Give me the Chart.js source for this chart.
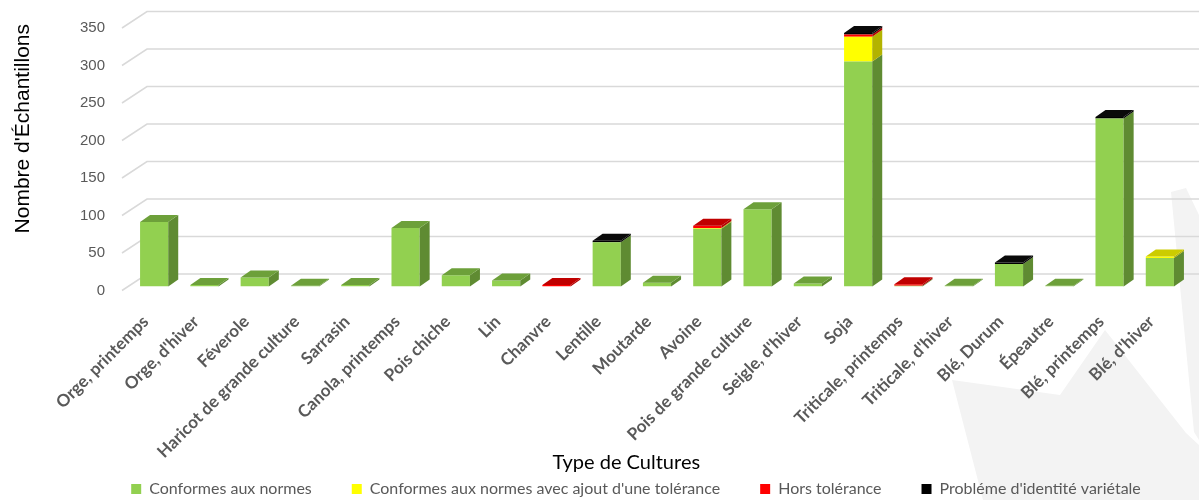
<!DOCTYPE html>
<html>
<head>
<meta charset="utf-8">
<script src="https://cdn.jsdelivr.net/npm/chart.js@4/dist/chart.umd.min.js"></script>
<style>
  html, body { margin: 0; padding: 0; background: #fff; }
</style>
</head>
<body>
<canvas id="myChart" width="1199" height="500"></canvas>
<script>
/* Données */
const cultures = ['Orge, printemps', "Orge, d'hiver", 'Féverole', 'Haricot de grande culture', 'Sarrasin',
  'Canola, printemps', 'Pois chiche', 'Lin', 'Chanvre', 'Lentille', 'Moutarde', 'Avoine',
  'Pois de grande culture', "Seigle, d'hiver", 'Soja', 'Triticale, printemps', "Triticale, d'hiver",
  'Blé, Durum', 'Épeautre', 'Blé, printemps', "Blé, d'hiver"];
const conformes   = [86, 2, 12, 1, 2, 78, 15, 8, 0, 59, 5, 77, 103, 4, 300, 1, 1, 30, 1, 224, 38];
const tolerance   = [0, 0, 0, 0, 0, 0, 0, 0, 0, 0, 0, 1, 0, 0, 33, 0, 0, 0, 0, 0, 2];
const horsTol     = [0, 0, 0, 0, 0, 0, 0, 0, 2, 0, 0, 3, 0, 0, 3, 2, 0, 0, 0, 0, 0];
const identite    = [0, 0, 0, 0, 0, 0, 0, 0, 0, 2, 0, 0, 0, 0, 2, 0, 0, 2, 0, 2, 0];
const yTicks = [0, 50, 100, 150, 200, 250, 300, 350];

/* couleurs : face avant, côté, dessus */
const faces = [
  { front: '#92d050', side: '#5f8b32', top: '#6da03a' },
  { front: '#ffff00', side: '#b3b300', top: '#cccc00' },
  { front: '#ff0000', side: '#b30000', top: '#c00000' },
  { front: '#000000', side: '#000000', top: '#0a0a0a' }
];
const DX = 10, DY = 7; // profondeur des barres

/* Effet 3D façon Excel */
const bar3d = {
  id: 'bar3d',
  beforeDraw(chart) {
    // forme grise en filigrane (bas à droite)
    const ctx = chart.ctx;
    ctx.save();
    ctx.fillStyle = '#f3f3f3';
    ctx.beginPath();
    [[952, 380], [1060, 395], [1105, 330], [1186, 433], [1199, 445], [1199, 500], [983, 500]]
      .forEach(([x, y], i) => i ? ctx.lineTo(x, y) : ctx.moveTo(x, y));
    ctx.closePath();
    ctx.fill();
    ctx.beginPath();
    [[1171, 192], [1186, 188], [1199, 215], [1199, 440], [1194, 432]]
      .forEach(([x, y], i) => i ? ctx.lineTo(x, y) : ctx.moveTo(x, y));
    ctx.closePath();
    ctx.fill();
    ctx.restore();
  },
  beforeDatasetsDraw(chart) {
    // quadrillage sur le mur du fond + lignes de côté
    const { ctx, chartArea, scales: { y } } = chart;
    ctx.save();
    ctx.strokeStyle = '#d9d9d9';
    ctx.lineWidth = 1.5;
    y.ticks.forEach(t => {
      const py = y.getPixelForValue(t.value);
      ctx.beginPath();
      ctx.moveTo(chartArea.left - 7, py + 4);
      ctx.lineTo(chartArea.left + 18, py - 12.5);
      ctx.lineTo(chart.width, py - 12.5);
      ctx.stroke();
    });
    ctx.restore();
  },
  afterDatasetsDraw(chart) {
    const ctx = chart.ctx;
    const n = chart.data.labels.length;
    ctx.save();
    for (let i = 0; i < n; i++) {
      let topDs = -1;
      chart.data.datasets.forEach((ds, d) => { if (ds.data[i] > 0) topDs = d; });
      chart.data.datasets.forEach((ds, d) => {
        if (!(ds.data[i] > 0)) return;
        const el = chart.getDatasetMeta(d).data[i];
        const left = el.x - el.width / 2, right = el.x + el.width / 2;
        const top = el.y, bot = el.base;
        // côté droit
        ctx.fillStyle = faces[d].side;
        ctx.beginPath();
        ctx.moveTo(right, top);
        ctx.lineTo(right + DX, top - DY);
        ctx.lineTo(right + DX, bot - DY);
        ctx.lineTo(right, bot);
        ctx.closePath();
        ctx.fill();
        // dessus
        if (d === topDs) {
          ctx.fillStyle = faces[d].top;
          ctx.beginPath();
          ctx.moveTo(left, top);
          ctx.lineTo(left + DX, top - DY);
          ctx.lineTo(right + DX, top - DY);
          ctx.lineTo(right, top);
          ctx.closePath();
          ctx.fill();
        }
      });
    }
    ctx.restore();
  }
};

const ctx = document.getElementById('myChart');

new Chart(ctx, {
  type: 'bar',
  data: {
    labels: cultures,
    datasets: [
      { label: 'Conformes aux normes', data: conformes, backgroundColor: faces[0].front },
      { label: "Conformes aux normes avec ajout d'une tolérance", data: tolerance, backgroundColor: faces[1].front },
      { label: 'Hors tolérance', data: horsTol, backgroundColor: faces[2].front },
      { label: "Probléme d'identité variétale", data: identite, backgroundColor: faces[3].front }
    ]
  },
  options: {
    responsive: false,
    animation: false,
    layout: { padding: { left: 87, right: 14, top: 24, bottom: -7 } },
    datasets: { bar: { barPercentage: 0.56, categoryPercentage: 1, borderWidth: 0 } },
    plugins: {
      tooltip: { enabled: false },
      legend: {
        position: 'bottom',
        labels: {
          boxWidth: 10, boxHeight: 10, padding: 40,
          color: '#595959',
          font: { family: 'Lato', size: 16 }
        }
      }
    },
    scales: {
      x: {
        stacked: true,
        grid: { display: false },
        border: { display: false },
        ticks: {
          autoSkip: false, minRotation: 45, maxRotation: 45,
          mirror: true, padding: -39.5, labelOffset: 6,
          color: '#595959',
          font: { family: 'Lato', size: 17, weight: 'bold' }
        },
        title: {
          display: true,
          text: 'Type de Cultures' + '            ',
          color: '#000',
          font: { family: 'Lato', size: 20 },
          padding: { top: 0, bottom: -34 }
        },
        afterFit(scale) { scale.height = 154.5; }
      },
      y: {
        stacked: true,
        min: 0, max: 350,
        afterBuildTicks(scale) { scale.ticks = yTicks.map(v => ({ value: v })); },
        grid: { display: false, drawTicks: false },
        border: { display: false },
        ticks: {
          mirror: true, crossAlign: 'far', padding: -49, labelOffset: 4,
          color: '#595959',
          font: { family: 'Liberation Sans', size: 15 }
        },
        title: {
          display: true,
          text: "Nombre d'Échantillons",
          align: 'end',
          color: '#000',
          font: { family: 'Liberation Sans', size: 21 },
          padding: { top: -76, bottom: 0 }
        },
        afterFit(scale) { scale.width = 42; }
      }
    }
  },
  plugins: [bar3d]
});
</script>
</body>
</html>
